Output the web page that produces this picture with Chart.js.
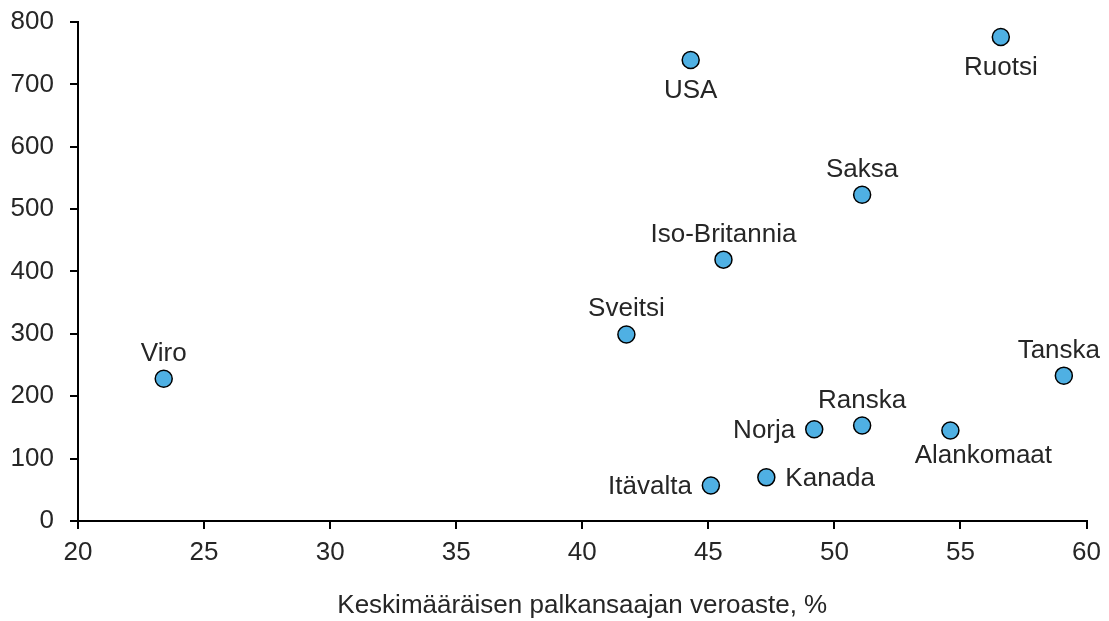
<!DOCTYPE html>
<html lang="fi">
<head>
    <meta charset="UTF-8">
    <title>Veroaste</title>
    <style>
        body { margin: 0; background: #fff; }
        #chart-container { width: 1109px; height: 621px; }
    </style>
</head>
<body>
    <div id="chart-container">
        <canvas id="tax-chart" width="1109" height="621"></canvas>
    </div>

    <script src="https://cdn.jsdelivr.net/npm/chart.js"></script>
    <script>
        // Maat ja arvot (luettu kuvasta)
        const countries = ['Viro', 'USA', 'Ruotsi', 'Saksa', 'Iso-Britannia', 'Sveitsi',
                           'Tanska', 'Ranska', 'Norja', 'Alankomaat', 'Kanada', 'Itävalta'];
        const taxRate = [23.4, 44.3, 56.6, 51.1, 45.6, 41.75, 59.1, 51.1, 49.2, 54.6, 47.3, 45.1];
        const yValues = [228, 739, 776, 523, 419, 299, 233, 153, 147, 145, 70, 57];
        const xTicks = [20, 25, 30, 35, 40, 45, 50, 55, 60];
        const yTicks = [0, 100, 200, 300, 400, 500, 600, 700, 800];

        // missä kohtaa nimi on pisteeseen nähden
        const labelSide = {
            'Viro': 'above', 'USA': 'below', 'Ruotsi': 'below', 'Saksa': 'above',
            'Iso-Britannia': 'above', 'Sveitsi': 'above', 'Tanska': 'above', 'Ranska': 'above',
            'Norja': 'left', 'Alankomaat': 'below', 'Kanada': 'right', 'Itävalta': 'left'
        };
        // pienet siirrot niille, jotka eivät ole aivan keskellä
        const labelNudge = {
            'Tanska': { dx: -5, dy: 0 },
            'Alankomaat': { dx: 33, dy: -6 }
        };

        const textColor = '#262626';
        const font = { family: 'Liberation Sans, Arial, sans-serif', size: 26 };

        const pointLabels = {
            id: 'pointLabels',
            afterDatasetsDraw(chart) {
                const ctx = chart.ctx;
                const meta = chart.getDatasetMeta(0);
                ctx.save();
                ctx.font = font.size + 'px ' + font.family;
                ctx.fillStyle = textColor;
                ctx.textBaseline = 'alphabetic';
                meta.data.forEach((pt, i) => {
                    const name = countries[i];
                    const side = labelSide[name];
                    let x = pt.x, y = pt.y;
                    if (side === 'above') {
                        ctx.textAlign = 'center'; y -= 18;
                    } else if (side === 'below') {
                        ctx.textAlign = 'center'; y += 38;
                    } else if (side === 'left') {
                        ctx.textAlign = 'right'; x -= 19; y += 9;
                    } else {
                        ctx.textAlign = 'left'; x += 19; y += 9;
                    }
                    const nudge = labelNudge[name];
                    if (nudge) { x += nudge.dx; y += nudge.dy; }
                    ctx.fillText(name, x, y);
                });
                ctx.restore();
            }
        };

        const ctx = document.getElementById('tax-chart').getContext('2d');
        const chart = new Chart(ctx, {
            type: 'scatter',
            data: {
                datasets: [{
                    data: taxRate.map((x, i) => ({ x: x, y: yValues[i] })),
                    backgroundColor: '#4FB0E3',
                    borderColor: '#000',
                    borderWidth: 1.5,
                    pointRadius: 8.5,
                    pointHoverRadius: 8.5
                }]
            },
            options: {
                responsive: false,
                animation: false,
                layout: { padding: { top: 13, right: 22, left: 0, bottom: 0 } },
                plugins: { legend: { display: false }, tooltip: { enabled: false } },
                scales: {
                    x: {
                        type: 'linear',
                        min: 20, max: 60,
                        afterBuildTicks: (axis) => { axis.ticks = xTicks.map(v => ({ value: v })); },
                        afterFit: (axis) => { axis.height = 100; },
                        ticks: { color: textColor, font: font, padding: 8, maxRotation: 0 },
                        grid: { drawOnChartArea: false, tickLength: 8, color: '#000', lineWidth: 2 },
                        border: { color: '#000', width: 2 },
                        title: {
                            display: true,
                            text: 'Keskimääräisen palkansaajan veroaste, %',
                            color: textColor, font: font, padding: { top: 0, bottom: 0 }
                        }
                    },
                    y: {
                        min: 0, max: 800,
                        afterBuildTicks: (axis) => { axis.ticks = yTicks.map(v => ({ value: v })); },
                        afterFit: (axis) => { axis.width = 78; },
                        // pieni lineHeight, ettei ylin nimiö työnnä piirtoaluetta alas
                        ticks: { color: textColor, font: { ...font, lineHeight: 0.46 }, padding: 16 },
                        grid: { drawOnChartArea: false, tickLength: 8, color: '#000', lineWidth: 2 },
                        border: { color: '#000', width: 2 }
                    }
                }
            },
            plugins: [pointLabels]
        });
    </script>
</body>
</html>
